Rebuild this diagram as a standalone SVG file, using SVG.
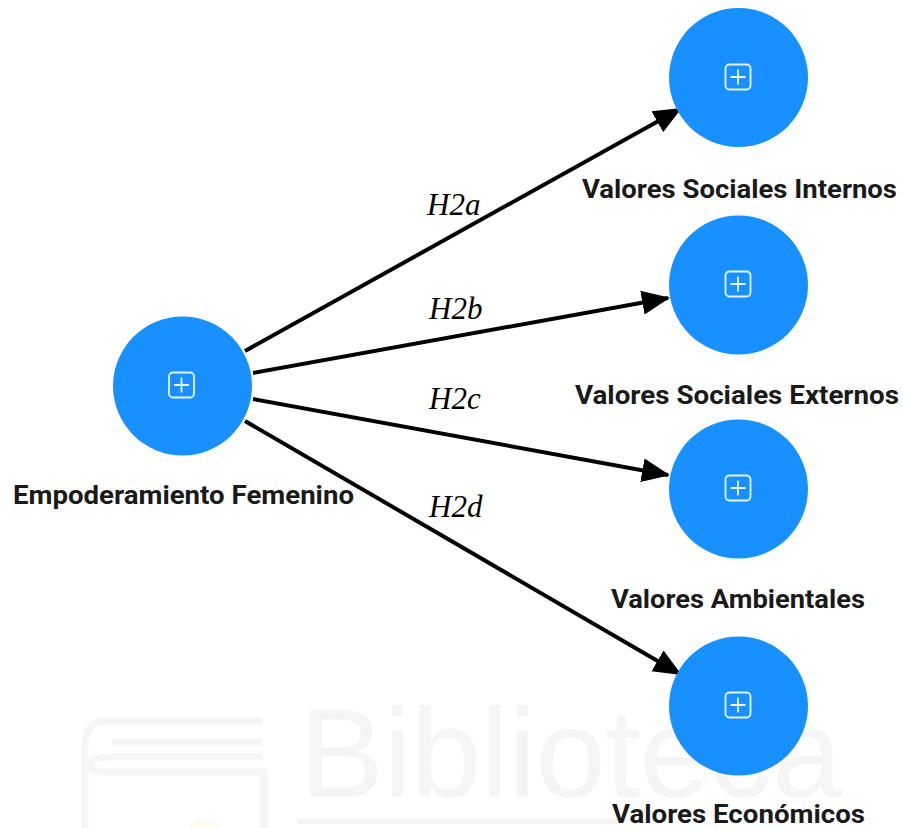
<svg xmlns="http://www.w3.org/2000/svg" width="903" height="828" viewBox="0 0 903 828">
<style>
.n{fill:#1890ff}
.i{fill:none;stroke:#e8f4ff;stroke-width:1.8}
.l{font:bold 25px "Roboto","Liberation Sans",sans-serif;fill:#1a1a1a}
.h{font:italic 31px "Liberation Serif",serif;fill:#000}
.c{fill:none;stroke:#000;stroke-width:4;marker-end:url(#a)}
.w{fill:none;stroke:#f5f5f5;stroke-width:7}
</style>
<defs>
<marker id="a" markerUnits="userSpaceOnUse" markerWidth="30" markerHeight="26" refX="26" refY="13" orient="auto"><path d="M0 1L28 13L0 25Z" fill="#000"/></marker>
<g id="p"><rect x="-12.500" y="-12.500" width="25" height="25" rx="4" class="i"/><path d="M-7.500 0H7.500M0-7.500V7.500" class="i"/></g>
</defs>
<rect width="903" height="828" fill="#fff"/>
<g id="watermark">
<path class="w" d="M262 721H108Q85 721 85 745V828M262 742H112M262 757H112Q90 757 90 765Q90 772 108 772H264V828"/>
<text x="300" y="797" font-family="Liberation Sans,sans-serif" font-size="126" textLength="542" fill="#f5f5f5">Biblioteca</text>
<rect x="297" y="818" width="320" height="6" fill="#f5f5f5"/>
<ellipse cx="205" cy="826" rx="15" ry="7" fill="#fefbf0"/>
</g>
<g id="connectors">
<path class="c" d="M245 351L680 109"/>
<path class="c" d="M253 373L668 298"/>
<path class="c" d="M253 399L668 475"/>
<path class="c" d="M245 421L680 674"/>
</g>
<g id="n0"><circle class="n" cx="182.500" cy="386" r="69.500"/><use href="#p" x="181.500" y="385"/><text class="l" x="13" y="504" textLength="341" lengthAdjust="spacingAndGlyphs">Empoderamiento Femenino</text></g>
<g id="n1"><circle class="n" cx="738.500" cy="77.500" r="69.500"/><use href="#p" x="738" y="77"/><text class="l" x="582" y="198" textLength="315" lengthAdjust="spacingAndGlyphs">Valores Sociales Internos</text></g>
<g id="n2"><circle class="n" cx="738.500" cy="285" r="69.500"/><use href="#p" x="738" y="284"/><text class="l" x="575" y="404" textLength="324" lengthAdjust="spacingAndGlyphs">Valores Sociales Externos</text></g>
<g id="n3"><circle class="n" cx="738.500" cy="489" r="69.500"/><use href="#p" x="738" y="488"/><text class="l" x="611" y="608" textLength="254" lengthAdjust="spacingAndGlyphs">Valores Ambientales</text></g>
<g id="n4"><circle class="n" cx="738.500" cy="706" r="69.500"/><use href="#p" x="738" y="705"/><text class="l" x="612" y="823" textLength="253" lengthAdjust="spacingAndGlyphs">Valores Económicos</text></g>
<g id="labels">
<text class="h" x="427" y="215">H2a</text>
<text class="h" x="429" y="319">H2b</text>
<text class="h" x="429" y="409">H2c</text>
<text class="h" x="429" y="517">H2d</text>
</g>
</svg>
